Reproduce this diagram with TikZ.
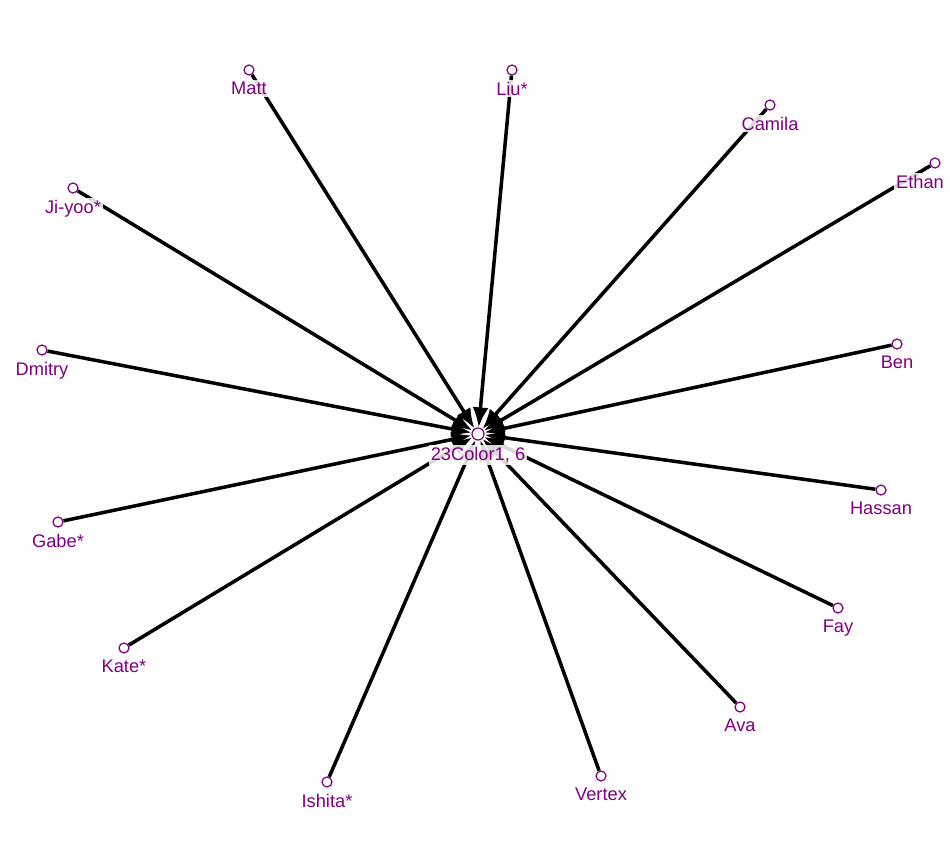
\documentclass[tikz,border=0pt]{standalone}
\usepackage{fontspec}
\setmainfont{Liberation Sans}
\usetikzlibrary{arrows.meta}
\usetikzlibrary{backgrounds}

\definecolor{vpurple}{HTML}{800080}

\tikzset{
  vert/.style={circle, draw=vpurple, fill=white, line width=0.7pt, minimum size=0.2cm, inner sep=0pt},
  vlabel/.style={text=vpurple, fill=white, fill opacity=0.85, text opacity=1, inner sep=1pt,
    font=\fontsize{10.4}{12}\selectfont, label distance=0.09cm},
  edge/.style={line width=2pt, -{Latex[length=4mm, width=3.2mm]}},
}

\begin{document}
\begin{tikzpicture}[x=0.02cm, y=-0.02cm]
    \useasboundingbox (0, 0) rectangle (950, 848);

    % leaves
    \node[vert, label={[vlabel]below:Matt}] (matt) at (249, 70) {};
    \node[vert, label={[vlabel]below:Liu*}] (liu) at (512, 70) {};
    \node[vert, label={[vlabel]below:Camila}] (camila) at (770, 105) {};
    \node[vert, label={[vlabel, xshift=-0.3cm]below:Ethan}] (ethan) at (935, 163) {};
    \node[vert, label={[vlabel]below:Ji-yoo*}] (jiyoo) at (73, 188) {};
    \node[vert, label={[vlabel]below:Dmitry}] (dmitry) at (42, 350) {};
    \node[vert, label={[vlabel]below:Ben}] (ben) at (897, 344) {};
    \node[vert, label={[vlabel]below:Hassan}] (hassan) at (881, 490) {};
    \node[vert, label={[vlabel]below:Gabe*}] (gabe) at (58, 522) {};
    \node[vert, label={[vlabel]below:Fay}] (fay) at (838, 608) {};
    \node[vert, label={[vlabel]below:Kate*}] (kate) at (124, 648) {};
    \node[vert, label={[vlabel]below:Ava}] (ava) at (740, 707) {};
    \node[vert, label={[vlabel]below:Vertex}] (vertex) at (601, 776) {};
    \node[vert, label={[vlabel]below:Ishita*}] (ishita) at (327, 782) {};

    % hub
    \node[vert, minimum size=0.24cm, label={[vlabel]below:23Color1, 6}] (hub) at (478, 434) {};

    \begin{pgfonlayer}{background}
    \foreach \v in {matt, liu, camila, ethan, jiyoo, dmitry, ben, hassan,
                    gabe, fay, kate, ava, vertex, ishita}
        \draw[edge] (\v) -- (hub);
    \end{pgfonlayer}

\end{tikzpicture}
\end{document}
